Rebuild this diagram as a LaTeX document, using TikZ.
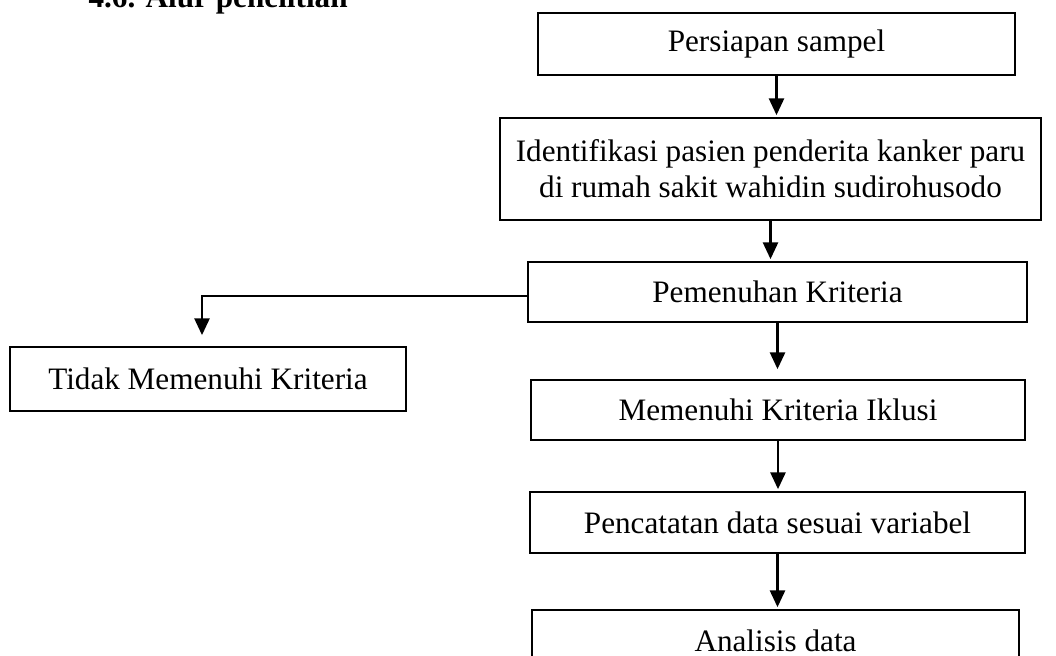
\documentclass[tikz,border=0pt]{standalone}
\usepackage{fontspec}
\setmainfont{Liberation Serif}
\usetikzlibrary{arrows.meta,calc,positioning}
\newcommand{\pxu}{0.01352cm}
\tikzset{
 alur/.style={font=\fontsize{12}{13.8}\selectfont,line join=miter,x=\pxu,y=-\pxu},
 stepbox/.style={rectangle,draw=black,line width=.65pt,align=center,inner sep=0pt},
 boxsize/.style 2 args={minimum width=#1*\pxu,minimum height=#2*\pxu},
 flow/.style={draw=black,line width=1pt,shorten >=2*\pxu,-{Triangle[length=6.5pt,width=5.8pt]}},
 gap/.style={shorten >=#1*\pxu},
 heading/.style={font=\fontsize{12}{13.8}\selectfont\bfseries,anchor=base west,inner sep=0pt}
}

\begin{document}
\begin{tikzpicture}[alur]
 \clip (0,0) rectangle (1056,655);
 \useasboundingbox (0,0) rectangle (1056,655);
 \node[heading] (judul) at (88,7) {4.6. Alur penelitian};
 \node[stepbox,boxsize={477}{62}] (prep) at (776.5,44) {Persiapan sampel};
 \node[stepbox,boxsize={541}{102}] (ident) at (770.5,169) {Identifikasi pasien penderita kanker paru\\di rumah sakit wahidin sudirohusodo};
 \node[stepbox,boxsize={499}{60}] (kriteria) at (777.5,292) {Pemenuhan Kriteria};
 \node[stepbox,boxsize={396}{64}] (tidak) at (208,379) {Tidak Memenuhi Kriteria};
 \node[stepbox,boxsize={494}{60}] (inklusi) at (778,410) {Memenuhi Kriteria Iklusi};
 \node[stepbox,boxsize={495}{61}] (catat) at (777.5,522.5) {Pencatatan data sesuai variabel};
 \node[stepbox,boxsize={487}{62}] (analisis) at (775.5,641) {Analisis data};
 \draw[flow] (prep.south) -- (prep.south |- ident.north);
 \draw[flow] (ident.south) -- (ident.south |- kriteria.north);
 \draw[flow,gap=11] ([yshift=-4*\pxu]kriteria.west) -| ([xshift=-6*\pxu]tidak.north);
 \draw[flow,gap=10] (kriteria.south) -- (kriteria.south |- inklusi.north);
 \draw[flow] (inklusi.south) -- (inklusi.south |- catat.north);
 \draw[flow] (catat.south) -- (catat.south |- analisis.north);
\end{tikzpicture}
\end{document}
